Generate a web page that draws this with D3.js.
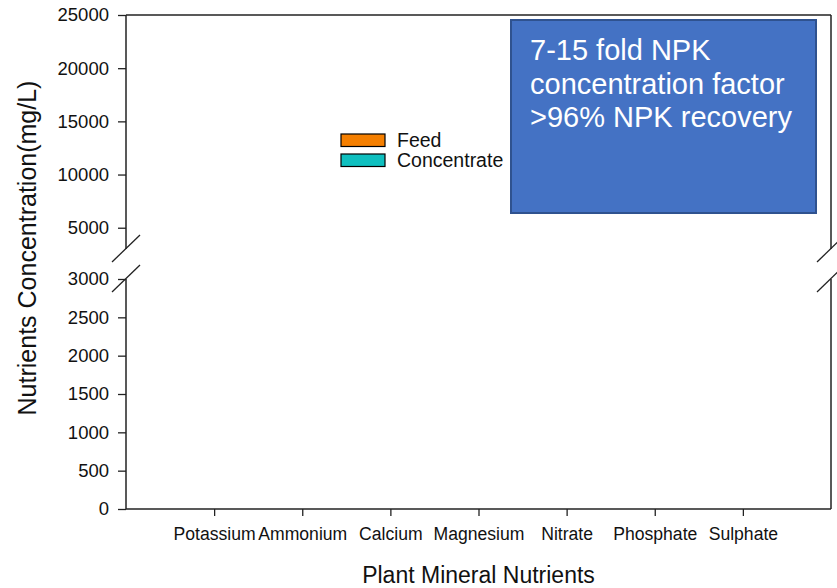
<!DOCTYPE html>
<html>
<head>
<meta charset="utf-8">
<script src="https://cdn.jsdelivr.net/npm/d3@7"></script>
<style>
  html, body { margin: 0; padding: 0; background: #ffffff; }
  svg { display: block; }
  text { font-family: "Liberation Sans", Arial, sans-serif; fill: #111; }
</style>
</head>
<body>
<svg id="chart" width="837" height="588"></svg>
<script>
// Nutrient categories along the x axis
const categories = ["Potassium", "Ammonium", "Calcium", "Magnesium", "Nitrate", "Phosphate", "Sulphate"];
// Series shown in the legend
const seriesNames = ["Feed", "Concentrate"];
const seriesColors = ["#f57f00", "#0fbfbf"];
// No bar heights are plotted for either series
const feedValues = [null, null, null, null, null, null, null];
const concentrateValues = [null, null, null, null, null, null, null];
// Tick values on the broken y axis
const lowerTicks = [0, 500, 1000, 1500, 2000, 2500, 3000];
const upperTicks = [5000, 10000, 15000, 20000, 25000];
// Annotation text lines
const noteLines = ["7-15 fold NPK", "concentration factor", ">96% NPK recovery"];

const svg = d3.select("#chart");

const plotLeft = 126, plotRight = 831, plotTop = 15, plotBottom = 509;
const lowerTop = 279, upperBottom = 249;

const x = d3.scaleLinear().domain([0, categories.length + 1]).range([plotLeft, plotRight]);
const yLow = d3.scaleLinear().domain([0, 3000]).range([plotBottom, lowerTop]);
const yHigh = d3.scaleLinear().domain([3000, 25000]).range([upperBottom, plotTop]);

// Bars (drawn only where a value exists), grouped around each category tick
const barW = 30;
const seriesData = [feedValues, concentrateValues];
const yVal = v => v <= 3000 ? yLow(v) : yHigh(v);
seriesData.forEach((vals, s) => {
  svg.append("g").selectAll("rect")
    .data(vals.map((v, i) => ({ v, i })).filter(d => d.v != null))
    .join("rect")
    .attr("x", d => x(d.i + 1) - barW + s * barW)
    .attr("width", barW)
    .attr("y", d => yVal(d.v))
    .attr("height", d => plotBottom - yVal(d.v))
    .attr("fill", seriesColors[s])
    .attr("stroke", "#000");
});

const fmt = d3.format("d");

// Y axis, lower segment
const axLow = svg.append("g")
  .attr("transform", `translate(${plotLeft},0)`)
  .call(d3.axisLeft(yLow).tickValues(lowerTicks).tickFormat(fmt).tickSize(8).tickSizeOuter(0).tickPadding(9));
// Y axis, upper segment
const axHigh = svg.append("g")
  .attr("transform", `translate(${plotLeft},0)`)
  .call(d3.axisLeft(yHigh).tickValues(upperTicks).tickFormat(fmt).tickSize(8).tickSizeOuter(0).tickPadding(9));
[axLow, axHigh].forEach(g => {
  g.select(".domain").remove();
  g.selectAll(".tick line").attr("stroke", "#222").attr("stroke-width", 1.3);
  g.selectAll(".tick text").attr("font-size", 18.5).attr("font-family", "Liberation Sans, Arial, sans-serif").attr("fill", "#111");
});

// X axis
const axX = svg.append("g")
  .attr("transform", `translate(0,${plotBottom})`)
  .call(d3.axisBottom(x).tickValues(d3.range(1, categories.length + 1))
    .tickFormat(d => categories[d - 1]).tickSize(7).tickSizeOuter(0).tickPadding(12));
axX.select(".domain").remove();
axX.selectAll(".tick line").attr("stroke", "#222").attr("stroke-width", 1.3);
axX.selectAll(".tick text").attr("font-size", 17.6).attr("font-family", "Liberation Sans, Arial, sans-serif").attr("fill", "#111");

// Frame lines with gaps at the axis break
const frame = svg.append("g").attr("stroke", "#222").attr("stroke-width", 1.5).attr("fill", "none");
frame.append("line").attr("x1", plotLeft).attr("x2", plotRight).attr("y1", plotTop).attr("y2", plotTop);
frame.append("line").attr("x1", plotLeft).attr("x2", plotRight).attr("y1", plotBottom).attr("y2", plotBottom);
[plotLeft, plotRight].forEach(xx => {
  frame.append("line").attr("x1", xx).attr("x2", xx).attr("y1", plotTop).attr("y2", upperBottom);
  frame.append("line").attr("x1", xx).attr("x2", xx).attr("y1", lowerTop).attr("y2", plotBottom);
});
// Break slashes
const breaks = svg.append("g").attr("stroke", "#222").attr("stroke-width", 1.3);
[plotLeft, plotRight].forEach(xx => {
  [upperBottom, lowerTop].forEach(yy => {
    breaks.append("line")
      .attr("x1", xx - 14).attr("y1", yy + 13)
      .attr("x2", xx + 14).attr("y2", yy - 14);
  });
});

// Axis titles
svg.append("text")
  .attr("x", (plotLeft + plotRight) / 2).attr("y", 583)
  .attr("text-anchor", "middle").attr("font-size", 23)
  .text("Plant Mineral Nutrients");
svg.append("text")
  .attr("transform", `translate(36,248) rotate(-90)`)
  .attr("text-anchor", "middle").attr("font-size", 25)
  .text("Nutrients Concentration(mg/L)");

// Legend
const legend = svg.append("g").attr("transform", "translate(341,134)");
seriesNames.forEach((name, i) => {
  const g = legend.append("g").attr("transform", `translate(0,${i * 20})`);
  g.append("rect").attr("width", 44).attr("height", 12.5)
    .attr("fill", seriesColors[i]).attr("stroke", "#000").attr("stroke-width", 1.2);
  g.append("text").attr("x", 56).attr("y", 13).attr("font-size", 19.5).text(name);
});

// Annotation box
const note = svg.append("g");
note.append("rect")
  .attr("x", 511).attr("y", 20).attr("width", 305).attr("height", 193)
  .attr("fill", "#4472c4").attr("stroke", "#2f528f").attr("stroke-width", 2);
note.selectAll("text").data(noteLines).join("text")
  .attr("x", 530).attr("y", (d, i) => 60 + i * 33.5)
  .attr("font-size", 29).style("fill", "#ffffff")
  .text(d => d);
</script>
</body>
</html>
